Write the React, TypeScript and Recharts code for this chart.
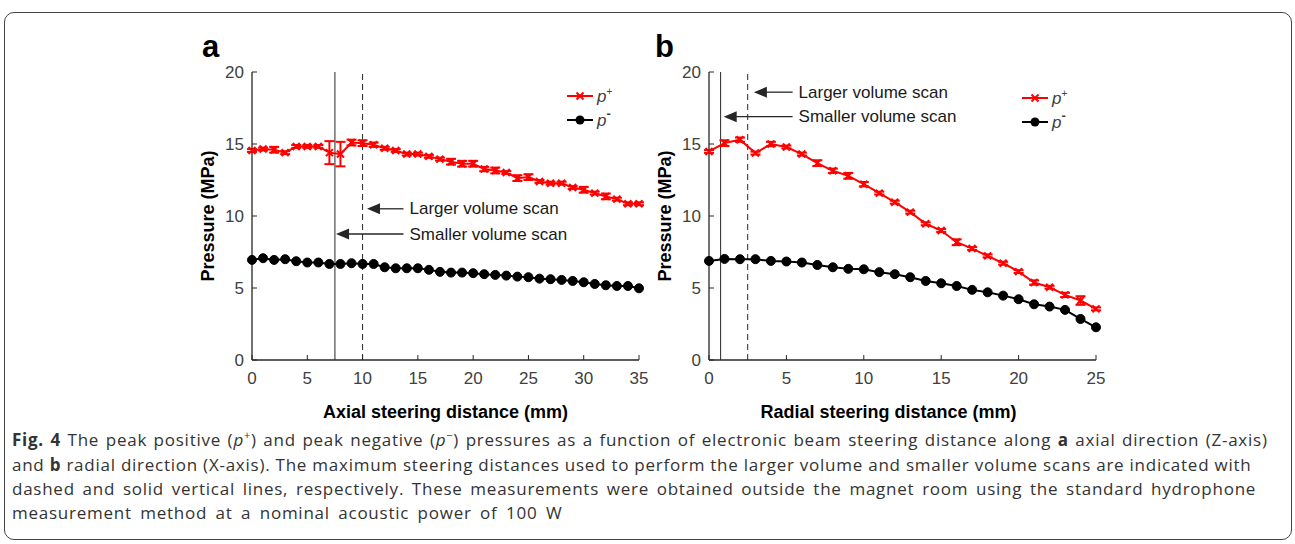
import React from 'react';
import {
  LineChart, Line, XAxis, YAxis, ReferenceLine, ErrorBar, Legend,
} from 'recharts';

// ---- data ----
const axialDist = [0, 1, 2, 3, 4, 5, 6, 7, 8, 9, 10, 11, 12, 13, 14, 15, 16, 17, 18, 19, 20, 21, 22, 23, 24, 25, 26, 27, 28, 29, 30, 31, 32, 33, 34, 35];
const axialPos = [14.55, 14.65, 14.6, 14.4, 14.83, 14.83, 14.83, 14.4, 14.3, 15.1, 15.06, 14.95, 14.7, 14.55, 14.3, 14.3, 14.14, 13.95, 13.77, 13.63, 13.63, 13.26, 13.16, 13.02, 12.63, 12.7, 12.4, 12.28, 12.28, 11.98, 11.82, 11.59, 11.36, 11.17, 10.85, 10.85];
const axialPosErr = [0.1, 0.1, 0.2, 0.1, 0.1, 0.1, 0.1, 0.8, 0.85, 0.2, 0.2, 0.15, 0.1, 0.1, 0.1, 0.1, 0.1, 0.1, 0.2, 0.2, 0.2, 0.15, 0.2, 0.1, 0.2, 0.2, 0.1, 0.1, 0.1, 0.1, 0.2, 0.1, 0.2, 0.1, 0.1, 0.1];
const axialNeg = [6.95, 7.07, 6.95, 7.0, 6.86, 6.77, 6.77, 6.67, 6.67, 6.72, 6.67, 6.67, 6.44, 6.37, 6.37, 6.37, 6.26, 6.12, 6.07, 6.07, 6.03, 5.96, 5.91, 5.86, 5.79, 5.75, 5.65, 5.61, 5.56, 5.49, 5.4, 5.28, 5.19, 5.14, 5.14, 4.98];

const radialDist = [0, 1, 2, 3, 4, 5, 6, 7, 8, 9, 10, 11, 12, 13, 14, 15, 16, 17, 18, 19, 20, 21, 22, 23, 24, 25];
const radialPos = [14.48, 15.06, 15.3, 14.37, 15.0, 14.79, 14.3, 13.67, 13.14, 12.79, 12.21, 11.59, 10.96, 10.27, 9.46, 8.99, 8.18, 7.74, 7.23, 6.72, 6.14, 5.38, 5.05, 4.52, 4.13, 3.55];
const radialPosErr = [0.1, 0.2, 0.15, 0.1, 0.15, 0.1, 0.1, 0.2, 0.15, 0.2, 0.15, 0.1, 0.1, 0.1, 0.1, 0.1, 0.2, 0.1, 0.1, 0.1, 0.1, 0.15, 0.1, 0.15, 0.3, 0.1];
const radialNeg = [6.88, 7.02, 7.0, 7.0, 6.88, 6.84, 6.77, 6.6, 6.44, 6.33, 6.3, 6.1, 5.96, 5.75, 5.49, 5.33, 5.14, 4.87, 4.7, 4.47, 4.22, 3.87, 3.71, 3.48, 2.85, 2.27];

const yTicks = [0, 5, 10, 15, 20];
const axialTicks = [0, 5, 10, 15, 20, 25, 30, 35];
const radialTicks = [0, 5, 10, 15, 20, 25];

// max steering distances for the scans
const axialSmaller = 7.5;
const axialLarger = 10;
const radialSmaller = 0.75;
const radialLarger = 2.5;

// arrow annotations: [tip x, tail x, y]
const axialLargerArrow = [10.4, 13.7, 10.5];
const axialSmallerArrow = [7.6, 13.7, 8.75];
const radialLargerArrow = [2.9, 5.4, 18.6];
const radialSmallerArrow = [0.95, 5.4, 16.9];

const FONT = '"Liberation Sans", Arial, sans-serif';
const AXIS = '#262626';
const TICK = '#404040';
const RED = '#ff0000';

const build = (xs: number[], pos: number[], err: number[], neg: number[]) =>
  xs.map((d, i) => ({ d, pos: pos[i], posErr: err[i], neg: neg[i] }));

const axialData = build(axialDist, axialPos, axialPosErr, axialNeg);
const radialData = build(radialDist, radialPos, radialPosErr, radialNeg);

const XMark = ({ cx, cy, s = 3.5 }: { cx: number; cy: number; s?: number }) => (
  <g stroke={RED} strokeWidth={2}>
    <line x1={cx - s} y1={cy - s} x2={cx + s} y2={cy + s} />
    <line x1={cx - s} y1={cy + s} x2={cx + s} y2={cy - s} />
  </g>
);

const redDot = (props: any) => {
  const { cx, cy, index } = props;
  if (cx == null || cy == null) return <g key={`rd-${index}`} />;
  return <XMark key={`rd-${index}`} cx={cx} cy={cy} />;
};

const arrowShape = (text: string) => (props: any) => {
  const { x1, y1, x2 } = props;
  const tip = Math.min(x1, x2);
  const tail = Math.max(x1, x2);
  const y = y1;
  return (
    <g>
      <line x1={tip + 8} y1={y} x2={tail} y2={y} stroke={AXIS} strokeWidth={1.3} />
      <polygon points={`${tip},${y} ${tip + 13},${y - 5.5} ${tip + 13},${y + 5.5}`} fill={AXIS} />
      <text x={tail + 6} y={y} dominantBaseline="central" fontFamily={FONT} fontSize={17} fill="#1a1a1a">
        {text}
      </text>
    </g>
  );
};

const LegendBox = () => (
  <svg width={80} height={52} style={{ display: 'block' }}>
    <line x1={0} y1={12} x2={26} y2={12} stroke={RED} strokeWidth={2} />
    <XMark cx={13} cy={12} />
    <text x={30} y={18} fontFamily={FONT} fontStyle="italic" fontSize={17} fill={TICK}>
      p<tspan dy={-7} fontSize={10} fontStyle="normal">+</tspan>
    </text>
    <line x1={0} y1={36} x2={26} y2={36} stroke="#000" strokeWidth={2} />
    <circle cx={13} cy={36} r={4.5} fill="#000" />
    <text x={30} y={42} fontFamily={FONT} fontStyle="italic" fontSize={17} fill={TICK}>
      p<tspan dy={-8} fontSize={13} fontWeight="bold" fontStyle="normal">-</tspan>
    </text>
  </svg>
);

type PanelProps = {
  data: any[];
  xTicks: number[];
  xMax: number;
  xTitle: string;
  titleDx: number;
  smaller: number;
  larger: number;
  largerArrow: number[];
  smallerArrow: number[];
  margin: { top: number; right: number; bottom: number; left: number };
  legendPos: { top: number; left: number };
};

const Panel = (p: PanelProps) => {
  const tickStyle = { fontSize: 17, fill: TICK, fontFamily: FONT };
  return (
    <LineChart width={480} height={370} data={p.data} margin={p.margin}>
      <XAxis
        xAxisId="b"
        type="number"
        dataKey="d"
        domain={[0, p.xMax]}
        ticks={p.xTicks}
        interval={0}
        height={58}
        tick={tickStyle}
        tickSize={-5}
        tickMargin={17}
        axisLine={{ stroke: AXIS, strokeWidth: 1.3 }}
        tickLine={{ stroke: AXIS }}
        label={{
          value: p.xTitle,
          position: 'insideBottom',
          offset: 0,
          dx: p.titleDx,
          style: { fontSize: 18, fontWeight: 'bold', fill: '#000', fontFamily: FONT },
        }}
      />
      <XAxis
        xAxisId="t"
        orientation="top"
        type="number"
        dataKey="d"
        domain={[0, p.xMax]}
        ticks={p.xTicks}
        interval={0}
        height={0}
        tickSize={-5}
        tickFormatter={() => ''}
        axisLine={{ stroke: AXIS, strokeWidth: 1.3 }}
        tickLine={{ stroke: AXIS }}
      />
      <YAxis
        yAxisId="l"
        type="number"
        domain={[0, 20]}
        ticks={yTicks}
        interval={0}
        width={60}
        tick={tickStyle}
        tickSize={-5}
        tickMargin={13}
        axisLine={{ stroke: AXIS, strokeWidth: 1.3 }}
        tickLine={{ stroke: AXIS }}
        label={{
          value: 'Pressure (MPa)',
          angle: -90,
          position: 'insideLeft',
          offset: 16,
          style: { textAnchor: 'middle', fontSize: 18, fontWeight: 'bold', fill: '#000', fontFamily: FONT },
        }}
      />
      <YAxis
        yAxisId="r"
        orientation="right"
        type="number"
        domain={[0, 20]}
        ticks={yTicks}
        interval={0}
        width={0}
        tickSize={-5}
        tickFormatter={() => ''}
        axisLine={{ stroke: AXIS, strokeWidth: 1.3 }}
        tickLine={{ stroke: AXIS }}
      />
      <ReferenceLine xAxisId="b" yAxisId="l" x={p.smaller} stroke={AXIS} strokeWidth={1} />
      <ReferenceLine xAxisId="b" yAxisId="l" x={p.larger} stroke={AXIS} strokeWidth={1} strokeDasharray="6 4" />
      <ReferenceLine
        xAxisId="b"
        yAxisId="l"
        segment={[{ x: p.largerArrow[1], y: p.largerArrow[2] }, { x: p.largerArrow[0], y: p.largerArrow[2] }]}
        shape={arrowShape('Larger volume scan')}
      />
      <ReferenceLine
        xAxisId="b"
        yAxisId="l"
        segment={[{ x: p.smallerArrow[1], y: p.smallerArrow[2] }, { x: p.smallerArrow[0], y: p.smallerArrow[2] }]}
        shape={arrowShape('Smaller volume scan')}
      />
      <Line
        xAxisId="b"
        yAxisId="l"
        dataKey="neg"
        stroke="#000"
        strokeWidth={2}
        dot={{ r: 4.5, fill: '#000', stroke: '#000', strokeWidth: 1 }}
        isAnimationActive={false}
      />
      <Line
        xAxisId="b"
        yAxisId="l"
        dataKey="pos"
        stroke={RED}
        strokeWidth={2}
        dot={redDot}
        isAnimationActive={false}
      >
        <ErrorBar dataKey="posErr" direction="y" width={5} strokeWidth={2} stroke={RED} />
      </Line>
      <Legend
        layout="vertical"
        align="center"
        verticalAlign="middle"
        wrapperStyle={{ top: p.legendPos.top, left: p.legendPos.left, width: 80 }}
        content={() => <LegendBox />}
      />
    </LineChart>
  );
};

const capStyle: React.CSSProperties = {
  position: 'absolute',
  left: 12,
  fontFamily: '"Open Sans", sans-serif',
  fontSize: 17,
  letterSpacing: 0.75,
  color: '#333',
  whiteSpace: 'nowrap',
  lineHeight: '20px',
};

const P = ({ sign }: { sign: string }) => (
  <span>
    <i>p</i>
    <sup style={{ fontSize: 11, lineHeight: 0 }}>{sign}</sup>
  </span>
);

const panelLetter: React.CSSProperties = {
  position: 'absolute',
  top: 31,
  fontFamily: FONT,
  fontWeight: 'bold',
  fontSize: 31,
  lineHeight: '31px',
};

export default function App() {
  return (
    <div style={{ position: 'absolute', left: 0, top: 0, width: 1295, height: 544, background: '#fff', overflow: 'hidden' }}>
      <div
        style={{
          position: 'absolute', left: 4, top: 12, width: 1286, height: 526,
          border: '1px solid #444', borderRadius: 10,
        }}
      />
      <div style={{ ...panelLetter, left: 202 }}>a</div>
      <div style={{ ...panelLetter, left: 655 }}>b</div>

      <div style={{ position: 'absolute', left: 180, top: 60 }}>
        <Panel
          data={axialData}
          xTicks={axialTicks}
          xMax={35}
          xTitle="Axial steering distance (mm)"
          titleDx={0}
          smaller={axialSmaller}
          larger={axialLarger}
          largerArrow={axialLargerArrow}
          smallerArrow={axialSmallerArrow}
          margin={{ top: 12, right: 21, bottom: 12, left: 12 }}
          legendPos={{ top: 24, left: 387 }}
        />
      </div>
      <div style={{ position: 'absolute', left: 640, top: 60 }}>
        <Panel
          data={radialData}
          xTicks={radialTicks}
          xMax={25}
          xTitle="Radial steering distance (mm)"
          titleDx={-14}
          smaller={radialSmaller}
          larger={radialLarger}
          largerArrow={radialLargerArrow}
          smallerArrow={radialSmallerArrow}
          margin={{ top: 12, right: 24, bottom: 12, left: 9 }}
          legendPos={{ top: 26, left: 382 }}
        />
      </div>

      <div style={{ ...capStyle, top: 430, wordSpacing: 1.4 }}>
        <b>Fig. 4</b> The peak positive (<P sign="+" />) and peak negative (<P sign="−" />) pressures as a function of electronic beam steering distance along <b>a</b> axial direction (Z-axis)
      </div>
      <div style={{ ...capStyle, top: 455 }}>
        and <b>b</b> radial direction (X-axis). The maximum steering distances used to perform the larger volume and smaller volume scans are indicated with
      </div>
      <div style={{ ...capStyle, top: 479, wordSpacing: 2.6 }}>
        dashed and solid vertical lines, respectively. These measurements were obtained outside the magnet room using the standard hydrophone
      </div>
      <div style={{ ...capStyle, top: 503, wordSpacing: 3.3 }}>
        measurement method at a nominal acoustic power of 100 W
      </div>
    </div>
  );
}
